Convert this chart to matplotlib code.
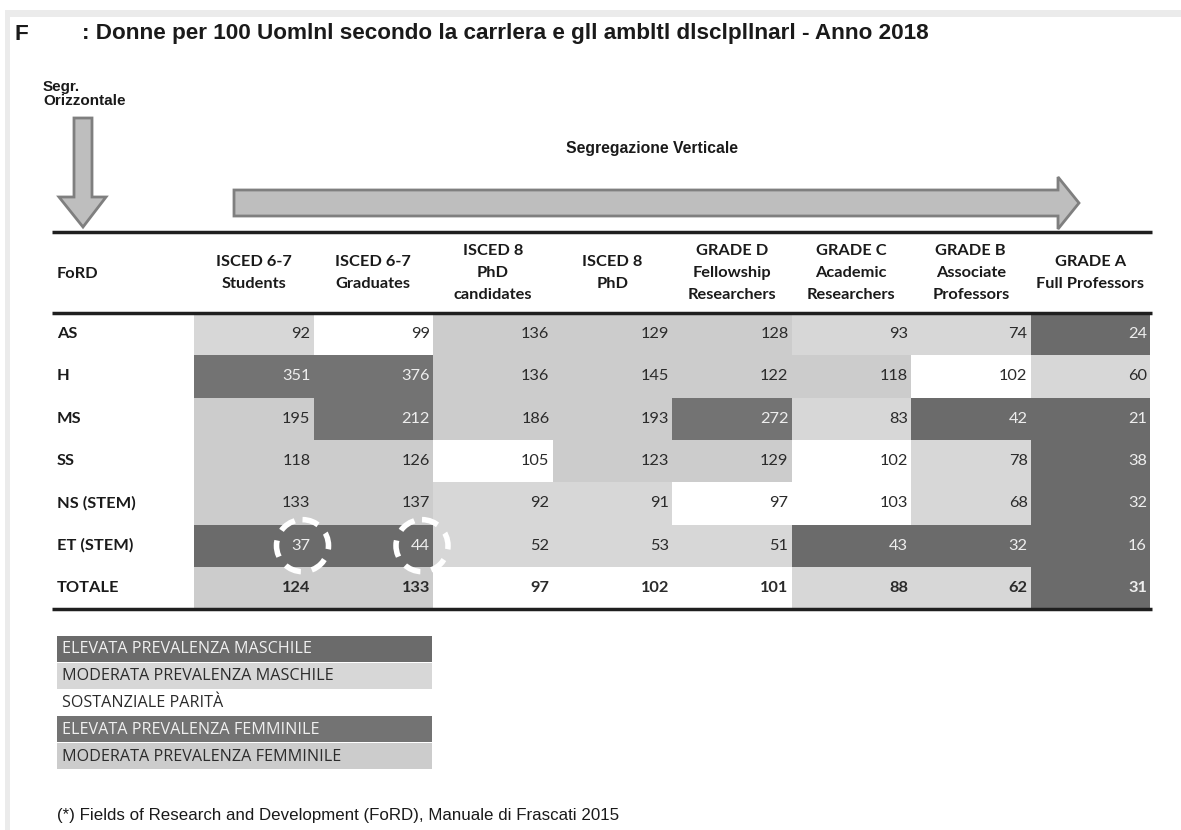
import matplotlib
matplotlib.use("Agg")
import matplotlib.pyplot as plt
from matplotlib.patches import Rectangle, Polygon, Circle
import numpy as np

# data
fields = ["AS", "H", "MS", "SS", "NS (STEM)", "ET (STEM)", "TOTALE"]
headers = ["ISCED 6-7\nStudents", "ISCED 6-7\nGraduates", "ISCED 8\nPhD\ncandidates",
           "ISCED 8\nPhD", "GRADE D\nFellowship\nResearchers", "GRADE C\nAcademic\nResearchers",
           "GRADE B\nAssociate\nProfessors", "GRADE A\nFull Professors"]
values = np.array([
    [92, 99, 136, 129, 128, 93, 74, 24],
    [351, 376, 136, 145, 122, 118, 102, 60],
    [195, 212, 186, 193, 272, 83, 42, 21],
    [118, 126, 105, 123, 129, 102, 78, 38],
    [133, 137, 92, 91, 97, 103, 68, 32],
    [37, 44, 52, 53, 51, 43, 32, 16],
    [124, 133, 97, 102, 101, 88, 62, 31],
])
# class limits: <50, 50-94, 95-105, 106-200, >200
limits = [50, 95, 106, 201]
classes = ["ELEVATA PREVALENZA MASCHILE", "MODERATA PREVALENZA MASCHILE", "SOSTANZIALE PARITÀ",
           "MODERATA PREVALENZA FEMMINILE", "ELEVATA PREVALENZA FEMMINILE"]
class_colors = ["#6b6b6b", "#d7d7d7", "#ffffff", "#cccccc", "#737373"]
legend_order = [0, 1, 2, 4, 3]
circled = [(5, 0), (5, 1)]

fig = plt.figure(figsize=(11.81, 8.30), dpi=100)
ax = fig.add_axes([0, 0, 1, 1])
ax.set_xlim(0, 1181)
ax.set_ylim(830, 0)
ax.axis("off")

# page frame
ax.add_patch(Rectangle((5, 10), 1176, 7, color="#ebebeb", lw=0))
ax.add_patch(Rectangle((5, 10), 5, 820, color="#ebebeb", lw=0))

title_font = dict(family="Liberation Sans", weight="bold", color="#1a1a1a")
ax.text(15, 34, "F", fontsize=16.2, va="center", **title_font)
ax.text(82, 34, ": Donne per 100 Uomlnl secondo la carrlera e gll ambltl dlsclpllnarl - Anno 2018",
        fontsize=16.2, va="center", **title_font)
ax.text(43, 94, "Segr.\nOrizzontale", fontsize=11, va="center", linespacing=0.95, **title_font)
ax.text(652, 149, "Segregazione Verticale", fontsize=11.3, ha="center", va="center", **title_font)

arrow_style = dict(facecolor="#bebebe", edgecolor="#7f7f7f", lw=2, joinstyle="miter")
ax.add_patch(Polygon([(74, 118), (92, 118), (92, 197), (106, 197), (83, 227),
                      (59, 197), (74, 197)], closed=True, **arrow_style))
ax.add_patch(Polygon([(234, 190), (1058, 190), (1058, 177), (1079, 203), (1058, 229),
                      (1058, 216), (234, 216)], closed=True, **arrow_style))

# table geometry
x0, x1 = 52, 1152
col0 = 194
cw = (x1 - 2 - col0) / len(headers)
head_top, head_bot = 232, 313
rh = 42.3

cat = np.digitize(values, limits)
font_tab = "Lato"
for i, f in enumerate(fields):
    y = head_bot + i * rh
    bold = f == "TOTALE"
    ax.text(57, y + rh / 2, f, fontsize=11.8, family=font_tab, weight="bold",
            va="center", color="#1a1a1a")
    for j in range(len(headers)):
        c = cat[i, j]
        ax.add_patch(Rectangle((col0 + j * cw, y), cw, rh, color=class_colors[c], lw=0))
        tc = "#eeeeee" if c in (0, 4) else "#2b2b2b"
        ax.text(col0 + (j + 1) * cw - 3, y + rh / 2, str(values[i, j]), fontsize=11.8,
                family=font_tab, weight="bold" if bold else "normal",
                ha="right", va="center", color=tc)

for (i, j) in circled:
    cx = col0 + (j + 1) * cw - 11
    cy = head_bot + i * rh + rh / 2
    ax.add_patch(Circle((cx, cy), 26, fill=False, edgecolor="white", lw=4,
                        linestyle=(0, (3, 2))))

ax.text(57, 274, "FoRD", fontsize=11.8, family=font_tab,
        weight="bold", va="center", color="#1a1a1a")
for j, h in enumerate(headers):
    ax.text(col0 + (j + 0.5) * cw, 273, h, fontsize=11.8,
            family=font_tab, weight="bold", ha="center", va="center",
            linespacing=1.72, color="#1a1a1a")

for yl in (head_top, head_bot, head_bot + len(fields) * rh):
    ax.plot([x0, x1], [yl, yl], color="#1f1f1f", lw=2.5, solid_capstyle="butt")

# legend boxes
ly = 636
lh = 26.8
for k, c in enumerate(legend_order):
    ax.add_patch(Rectangle((57, ly + k * lh), 375, lh - 1, color=class_colors[c], lw=0))
    tc = "#f0f0f0" if c in (0, 4) else "#2b2b2b"
    ax.text(62, ly + k * lh + lh / 2, classes[c], fontsize=11.6, family="Open Sans",
            va="center", color=tc)

ax.text(57, 815, "(*) Fields of Research and Development (FoRD), Manuale di Frascati 2015",
        fontsize=12.2, family="Liberation Sans", va="center", color="#1a1a1a")

fig.savefig("out.png", dpi=100)
